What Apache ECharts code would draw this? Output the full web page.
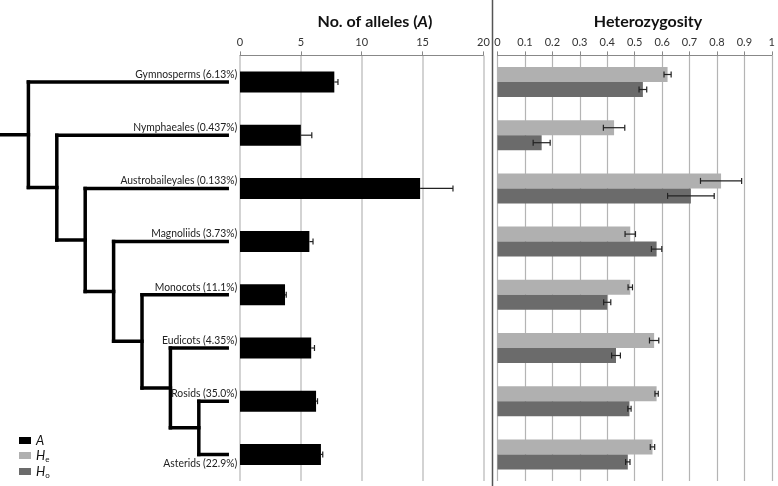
<!DOCTYPE html>
<html><head><meta charset="utf-8">
<script src="https://cdn.jsdelivr.net/npm/echarts@6/dist/echarts.min.js"></script>
<style>html,body{margin:0;padding:0;background:#fff}#c{width:778px;height:486px}</style>
</head><body><div id="c"></div><script>
// ---- data ----
const taxa = ['Gymnosperms','Nymphaeales','Austrobaileyales','Magnoliids','Monocots','Eudicots','Rosids','Asterids'];
const speciesPct = ['6.13','0.437','0.133','3.73','11.1','4.35','35.0','22.9'];
const allelesA   = [7.75, 5.0, 14.8, 5.7, 3.7, 5.85, 6.25, 6.65];
const allelesErr = [0.3, 0.9, 2.7, 0.3, 0.1, 0.27, 0.12, 0.15];
const hetHe    = [0.62, 0.425, 0.815, 0.484, 0.484, 0.571, 0.58, 0.565];
const hetHeErr = [0.013, 0.039, 0.075, 0.019, 0.008, 0.017, 0.006, 0.008];
const hetHo    = [0.53, 0.161, 0.705, 0.58, 0.40, 0.432, 0.481, 0.475];
const hetHoErr = [0.014, 0.031, 0.085, 0.019, 0.013, 0.016, 0.006, 0.008];
const alleleAxis = {min: 0, max: 20, interval: 5};
const hetAxis = {min: 0, max: 1, interval: 0.1};
// cladogram topology (nested clades)
const tree = ['Gymnosperms', ['Nymphaeales', ['Austrobaileyales', ['Magnoliids', ['Monocots', ['Eudicots', ['Rosids', 'Asterids']]]]]]];
const leafDepth = 8;

// ---- tree layout ----
const segs = [];
function layout(node, depth) {
  if (typeof node === 'string') return {x: leafDepth, y: taxa.indexOf(node)};
  const kids = node.map(ch => layout(ch, depth + 1));
  const ys = kids.map(k => k.y);
  segs.push([[depth, Math.min(...ys)], [depth, Math.max(...ys)]]);
  kids.forEach(k => segs.push([[depth, k.y], [k.x, k.y]]));
  return {x: depth, y: ys.reduce((a, b) => a + b, 0) / ys.length};
}
const root = layout(tree, 1);
segs.push([[0, root.y], [1, root.y]]);

const FONT = 'Lato';
const gridTop = 55.4, gridH = 425.6;

function errRender(offset, color, plusOnly) {
  return function (params, api) {
    const cat = api.value(2);
    const lo = api.coord([api.value(0), cat]);
    const hi = api.coord([api.value(1), cat]);
    const mid = api.coord([api.value(3), cat]);
    const y = lo[1] + offset, h = 3;
    const style = {stroke: color, lineWidth: 1.2};
    const x0 = plusOnly ? mid[0] : lo[0];
    const children = [
      {type: 'line', shape: {x1: x0, y1: y, x2: hi[0], y2: y}, style},
      {type: 'line', shape: {x1: hi[0], y1: y - h, x2: hi[0], y2: y + h}, style}
    ];
    if (!plusOnly) children.push({type: 'line', shape: {x1: lo[0], y1: y - h, x2: lo[0], y2: y + h}, style});
    return {type: 'group', children};
  };
}
const errData = (v, e) => v.map((d, i) => [d - e[i], d + e[i], i, d]);

// leaf labels: drawn right-aligned just past the branch tips; last leaf's label sits below its branch
function leafLabelRender(params, api) {
  const i = api.value(1);
  const p = api.coord([api.value(0), i]);
  const below = i === taxa.length - 1;
  return {
    type: 'text', x: p[0] + 10, y: p[1] + (below ? 3 : -2), scaleX: 0.86,
    style: {text: taxa[i] + ' (' + speciesPct[i] + '%)', x: 0, y: 0, align: 'right',
            verticalAlign: below ? 'top' : 'bottom', fontSize: 12, fontFamily: FONT, fill: '#222'}
  };
}

const chart = echarts.init(document.getElementById('c'), null, {renderer: 'canvas'});
const axisLabelStyle = {color: '#333', fontSize: 11, fontFamily: FONT, margin: 7};
chart.setOption({
  animation: false,
  textStyle: {fontFamily: FONT},
  title: [
    {text: '{b|No. of alleles (}{bi|A}{b|)}', left: 370, top: 9, textAlign: 'center',
     textStyle: {rich: {b: {fontSize: 16, fontWeight: 'bold', fontFamily: FONT, color: '#111'},
                        bi: {fontSize: 16, fontWeight: 'bold', fontStyle: 'italic', fontFamily: FONT, color: '#111'}}}},
    {text: 'Heterozygosity', left: 643, top: 9, textAlign: 'center',
     textStyle: {fontSize: 16, fontWeight: 'bold', fontFamily: FONT, color: '#111'}}
  ],
  legend: {
    orient: 'vertical', left: 14, top: 429, itemWidth: 12, itemHeight: 7, itemGap: 2,
    data: ['A', 'He', 'Ho'], icon: 'rect',
    formatter: n => n === 'A' ? '{i|A}' : '{i|H}{s|' + n[1] + '}',
    textStyle: {rich: {
      i: {fontStyle: 'italic', fontSize: 13, fontFamily: FONT, color: '#111', lineHeight: 15},
      s: {fontSize: 8, fontFamily: FONT, color: '#111', verticalAlign: 'bottom', lineHeight: 15, padding: [6, 0, 0, 0]}
    }}
  },
  grid: [
    {left: 240, width: 243.4, top: gridTop, height: gridH},
    {left: 497.5, width: 277, top: gridTop, height: gridH},
    {left: 0, width: 240, top: gridTop, height: gridH}
  ],
  xAxis: [
    {gridIndex: 0, type: 'value', position: 'top', ...alleleAxis,
     axisLine: {show: true, lineStyle: {color: '#888'}},
     axisTick: {show: true, length: 4, lineStyle: {color: '#888'}},
     axisLabel: {...axisLabelStyle},
     splitLine: {show: true, lineStyle: {color: '#c4c4c4', width: 1.5}}},
    {gridIndex: 1, type: 'value', position: 'top', ...hetAxis,
     axisLine: {show: true, lineStyle: {color: '#888'}},
     axisTick: {show: true, length: 4, lineStyle: {color: '#888'}},
     axisLabel: {...axisLabelStyle, formatter: v => String(Math.round(v * 10) / 10)},
     splitLine: {show: true, lineStyle: {color: '#b4b4b4', width: 1.2}}},
    {gridIndex: 2, type: 'value', min: 0, max: 8.45, show: false}
  ],
  yAxis: [
    {gridIndex: 0, type: 'category', data: taxa, inverse: true,
     axisLine: {show: false}, axisTick: {show: false}, axisLabel: {show: false}},
    {gridIndex: 1, type: 'category', data: taxa, inverse: true,
     axisLine: {show: false}, axisTick: {show: false}, axisLabel: {show: false}},
    {gridIndex: 2, type: 'value', min: -0.5, max: 7.5, inverse: true, show: false}
  ],
  series: [
    {name: 'A', type: 'bar', xAxisIndex: 0, yAxisIndex: 0, data: allelesA, barWidth: 21,
     itemStyle: {color: '#000'}},
    {name: 'He', type: 'bar', xAxisIndex: 1, yAxisIndex: 1, data: hetHe, barWidth: 15, barGap: '0%',
     itemStyle: {color: '#b0b0b0'}},
    {name: 'Ho', type: 'bar', xAxisIndex: 1, yAxisIndex: 1, data: hetHo, barWidth: 15, barGap: '0%',
     itemStyle: {color: '#6b6b6b'}},
    {name: 'errA', type: 'custom', xAxisIndex: 0, yAxisIndex: 0, data: errData(allelesA, allelesErr),
     encode: {x: [0, 1], y: 2}, renderItem: errRender(0, '#222', true), z: 5},
    {name: 'errHe', type: 'custom', xAxisIndex: 1, yAxisIndex: 1, data: errData(hetHe, hetHeErr),
     encode: {x: [0, 1], y: 2}, renderItem: errRender(-7.5, '#222', false), z: 5},
    {name: 'errHo', type: 'custom', xAxisIndex: 1, yAxisIndex: 1, data: errData(hetHo, hetHoErr),
     encode: {x: [0, 1], y: 2}, renderItem: errRender(7.5, '#222', false), z: 5},
    {name: 'tree', type: 'lines', coordinateSystem: 'cartesian2d', xAxisIndex: 2, yAxisIndex: 2,
     polyline: true, silent: true,
     data: segs.map(s => ({coords: s})),
     lineStyle: {color: '#000', width: 3.5, opacity: 1, cap: 'square', join: 'miter'}},
    {name: 'leafLabels', type: 'custom', xAxisIndex: 2, yAxisIndex: 2, silent: true, z: 6,
     data: taxa.map((t, i) => [leafDepth, i]), encode: {x: 0, y: 1}, renderItem: leafLabelRender}
  ],
  graphic: [
    {type: 'line', shape: {x1: 492.5, y1: 0, x2: 492.5, y2: 486}, style: {stroke: '#555', lineWidth: 1.5}}
  ]
});
</script></body></html>
